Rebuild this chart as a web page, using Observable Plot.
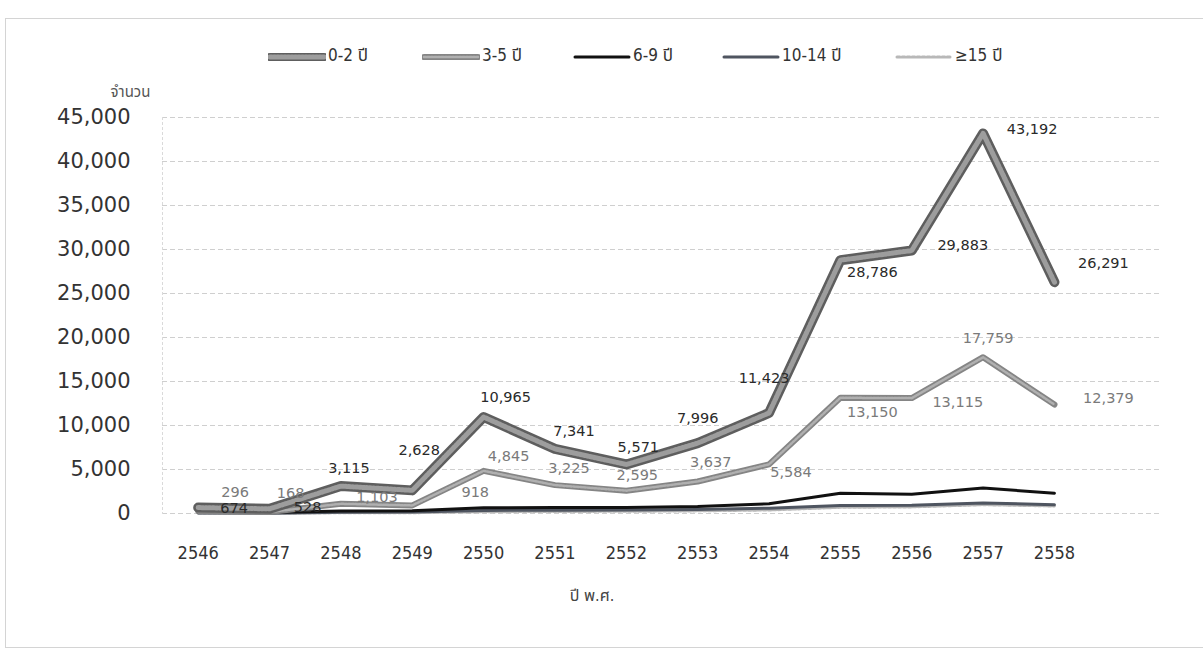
<!DOCTYPE html>
<html>
<head>
<meta charset="utf-8">
<script src="https://cdn.jsdelivr.net/npm/d3@7"></script>
<script src="https://cdn.jsdelivr.net/npm/@observablehq/plot@0.6"></script>
<style>
  html, body { margin: 0; padding: 0; background: #fff; }
  #wrap { position: relative; width: 1203px; height: 654px; overflow: hidden; background: #fff; }
  #frame { position: absolute; left: 5px; top: 18px; width: 1210px; height: 630px; border: 1px solid #d4d4d4; box-sizing: border-box; }
  #legend { position: relative; width: 1203px; height: 70px; }
  .item { position: absolute; top: 46px; height: 20px; display: flex; align-items: center; font-family: "DejaVu Sans Condensed", "Noto Sans Thai", sans-serif; font-size: 17px; color: #333; }
  .item svg { margin-right: 2px; }
</style>
</head>
<body>
<div id="wrap">
  <div id="frame"></div>
  <div id="legend"></div>
  <div id="chart"></div>
</div>
<script>
// ---- data ----
const years = [2546, 2547, 2548, 2549, 2550, 2551, 2552, 2553, 2554, 2555, 2556, 2557, 2558];
const seriesNames = ["0-2 ปี", "3-5 ปี", "6-9 ปี", "10-14 ปี", "≥15 ปี"];
const age0to2   = [674, 528, 3115, 2628, 10965, 7341, 5571, 7996, 11423, 28786, 29883, 43192, 26291];
const age3to5   = [296, 168, 1103, 918, 4845, 3225, 2595, 3637, 5584, 13150, 13115, 17759, 12379];
const age6to9   = [120, 100, 280, 320, 650, 680, 680, 800, 1100, 2300, 2200, 2900, 2300];
const age10to14 = [60, 40, 150, 180, 350, 380, 400, 450, 600, 900, 950, 1200, 1000];
const age15plus = [30, 20, 80, 90, 200, 230, 250, 300, 400, 700, 750, 1000, 850];
const yTicks = [0, 5000, 10000, 15000, 20000, 25000, 30000, 35000, 40000, 45000];
const yTitle = "จำนวน";
const xTitle = "ปี พ.ศ.";

// label placement offsets (pixels) for the value labels
const lab02dx = [36, 38, 8, 7, 22, 19, 12, 0, -5, 32, 51, 49, 49];
const lab02dy = [1, -1, -18, -40, -20, -18, -17, -25, -35, 12, -5, -4, -19];
const lab35dx = [37, 21, 36, 63, 25, 14, 11, 13, 22, 32, 46, 5, 54];
const lab35dy = [-19, -19, -6, -13, -15, -17, -15, -19, 8, 15, 4, -19, -6];

const allSeries = [age0to2, age3to5, age6to9, age10to14, age15plus];
const table = (vals) => years.map((y, i) => ({year: y, v: vals[i]}));
const fmt = d3.format(",");

// ---- line styles ----
const styles = [
  [{stroke: "#5e5e5e", w: 10}, {stroke: "#9d9d9d", w: 5, dash: "2,1.5"}],
  [{stroke: "#858585", w: 6}, {stroke: "#b0b0b0", w: 2.5, dash: "2,1.5"}],
  [{stroke: "#111", w: 3}],
  [{stroke: "#4f5560", w: 3}],
  [{stroke: "#b8b8b8", w: 3, dash: "3,2"}]
];

// ---- legend ----
const legend = document.getElementById("legend");
const legendLeft = [268, 422, 573, 722, 895];
seriesNames.forEach((name, i) => {
  const item = document.createElement("div");
  item.className = "item";
  item.style.left = legendLeft[i] + "px";
  const ns = "http://www.w3.org/2000/svg";
  const s = document.createElementNS(ns, "svg");
  s.setAttribute("width", 58); s.setAttribute("height", 20);
  styles[i].forEach(st => {
    const l = document.createElementNS(ns, "line");
    l.setAttribute("x1", 2); l.setAttribute("x2", 56);
    l.setAttribute("y1", 11); l.setAttribute("y2", 11);
    l.setAttribute("stroke", st.stroke);
    l.setAttribute("stroke-width", Math.min(st.w, 8));
    l.setAttribute("stroke-linecap", "round");
    if (st.dash) l.setAttribute("stroke-dasharray", st.dash);
    s.appendChild(l);
  });
  item.appendChild(s);
  const t = document.createElement("span");
  t.textContent = name;
  item.appendChild(t);
  legend.appendChild(item);
});

// ---- chart ----
const lineMarks = [];
for (let i = allSeries.length - 1; i >= 0; i--) {
  const data = table(allSeries[i]);
  styles[i].forEach(st => {
    lineMarks.push(Plot.line(data, {
      x: "year", y: "v", stroke: st.stroke, strokeWidth: st.w,
      strokeDasharray: st.dash, strokeLinejoin: "round", strokeLinecap: "round"
    }));
  });
}

const labelMarks = [];
table(age0to2).forEach((d, i) => {
  labelMarks.push(Plot.text([d], {x: "year", y: "v", text: (d) => fmt(d.v),
    dx: lab02dx[i], dy: lab02dy[i], fill: "#2a2a2a", fontSize: 14.5}));
});
table(age3to5).forEach((d, i) => {
  labelMarks.push(Plot.text([d], {x: "year", y: "v", text: (d) => fmt(d.v),
    dx: lab35dx[i], dy: lab35dy[i], fill: "#7a7a7a", fontSize: 14.5}));
});

const chart = Plot.plot({
  width: 1203,
  height: 584,
  marginLeft: 162,
  marginRight: 42,
  marginTop: 47,
  marginBottom: 141,
  style: {fontFamily: "'DejaVu Sans', 'Noto Sans Thai', sans-serif", background: "transparent", overflow: "visible"},
  x: {type: "linear", domain: [2545.5, 2559.5]},
  y: {domain: [0, 45000]},
  marks: [
    Plot.gridY(yTicks, {stroke: "#cfcfcf", strokeOpacity: 1, strokeDasharray: "5,3"}),
    Plot.frame({anchor: "left", stroke: "#dadada", strokeDasharray: "2,3"}),
    Plot.axisY(yTicks, {tickSize: 0, tickPadding: 32, fontSize: 21, tickFormat: fmt, fill: "#333", label: null}),
    Plot.axisX(years, {tickSize: 0, tickPadding: 33, fontSize: 18, tickFormat: (d) => String(d),
      fontFamily: "'DejaVu Sans Condensed', sans-serif", fill: "#333", label: null}),
    ...lineMarks,
    ...labelMarks,
    Plot.text([yTitle], {frameAnchor: "top-left", dx: -32, dy: -31, textAnchor: "middle", fontSize: 15, fill: "#555",
      fontFamily: "'DejaVu Sans Condensed', 'Noto Sans Thai', sans-serif"}),
    Plot.text([xTitle], {frameAnchor: "bottom", dx: -70, dy: 87, fontSize: 16, fill: "#444",
      fontFamily: "'DejaVu Sans Condensed', 'Noto Sans Thai', sans-serif"})
  ]
});
document.getElementById("chart").appendChild(chart);
</script>
</body>
</html>
